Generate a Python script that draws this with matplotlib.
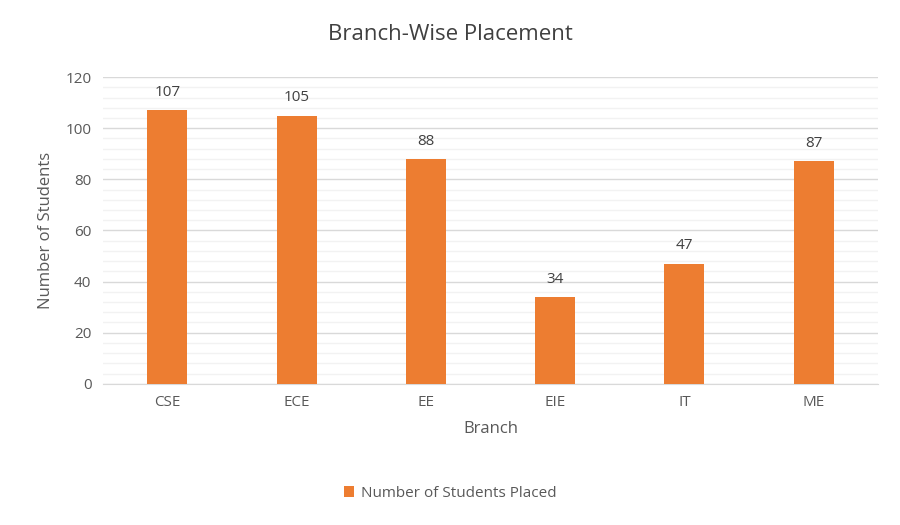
import matplotlib
matplotlib.use("Agg")
import matplotlib.pyplot as plt
from matplotlib.ticker import MultipleLocator

branches = ["CSE", "ECE", "EE", "EIE", "IT", "ME"]
placed = [107, 105, 88, 34, 47, 87]

plt.rcParams['font.family'] = ['Open Sans', 'DejaVu Sans']
fig = plt.figure(figsize=(9, 5.25), dpi=100)
ax = fig.add_axes([0.114, 0.269, 0.862, 0.584])
color = "#ED7D31"
x = range(len(branches))
bars = ax.bar(x, placed, width=0.31, color=color, zorder=3, label="Number of Students Placed")
for xi, v in zip(x, placed):
    ax.text(xi, v + 4, str(v), ha="center", va="bottom", fontsize=11, color="#404040")
ax.set_ylim(0, 120)
ax.set_xlim(-0.5, len(branches) - 0.5)
ax.yaxis.set_major_locator(MultipleLocator(20))
ax.yaxis.set_minor_locator(MultipleLocator(4))
ax.grid(axis="y", which="major", color="#D9D9D9", lw=1, zorder=0)
ax.grid(axis="y", which="minor", color="#F2F2F2", lw=1, zorder=0)
for s in ["top", "right", "left"]:
    ax.spines[s].set_visible(False)
ax.spines["bottom"].set_color("#D9D9D9")
ax.tick_params(axis="both", which="both", length=0, labelsize=11, labelcolor="#595959", pad=8)
ax.set_xticks(list(x))
ax.set_xticklabels(branches)
ax.set_xlabel("Branch", fontsize=12, color="#595959", labelpad=8)
ax.set_ylabel("Number of Students", fontsize=12, color="#595959", labelpad=8)
fig.suptitle("Branch-Wise Placement", fontsize=16, color="#404040", y=0.955)
fig.legend(handles=[bars], labels=["Number of Students Placed"], loc="center",
           bbox_to_anchor=(0.5, 0.06), frameon=False, fontsize=11, labelcolor="#595959",
           handlelength=0.7, handleheight=0.7, handletextpad=0.4)
fig.savefig("out.png", dpi=100)
